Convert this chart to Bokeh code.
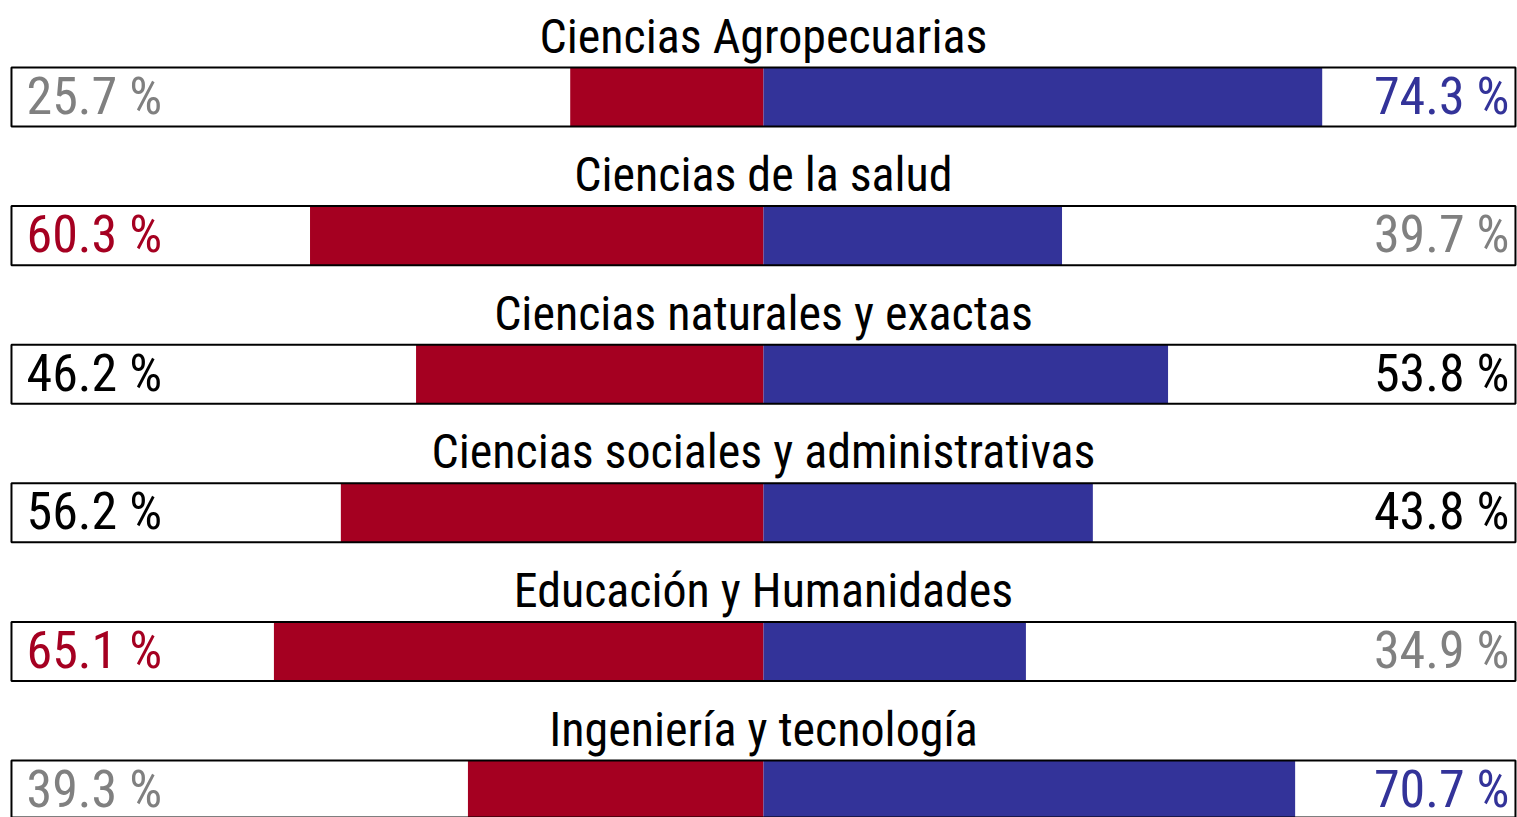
from bokeh.plotting import figure
from bokeh.models import Range1d, ColumnDataSource
from bokeh.core.properties import value
from bokeh.embed import file_html
from bokeh.resources import INLINE

# ---- data ----
areas = [
    "Ciencias Agropecuarias",
    "Ciencias de la salud",
    "Ciencias naturales y exactas",
    "Ciencias sociales y administrativas",
    "Educación y Humanidades",
    "Ingeniería y tecnología",
]
left_pct = [25.7, 60.3, 46.2, 56.2, 65.1, 39.3]    # red (left)
right_pct = [74.3, 39.7, 53.8, 43.8, 34.9, 70.7]   # blue (right)

# ---- styles ----
RED = "#A50021"
BLUE = "#333399"
GRAY = "#808080"
BLACK = "#000000"
left_label_colors = [GRAY, RED, BLACK, BLACK, RED, GRAY]
right_label_colors = [BLUE, GRAY, BLACK, BLACK, GRAY, BLUE]
FONT = value("'Roboto Condensed', 'Liberation Sans Narrow', 'DejaVu Sans Condensed', sans-serif")

n = len(areas)
rows = list(range(n))
BAR_H = 0.426

src = ColumnDataSource(dict(
    y=rows,
    neg=[-v for v in left_pct],
    pos=right_pct,
    zero=[0] * n,
    lo=[-100] * n,
    hi=[100] * n,
    title=areas,
    title_y=[r - 0.440 for r in rows],
    lab_y=[r - 0.006 for r in rows],
    left_txt=[f"{v:.1f} %" for v in left_pct],
    right_txt=[f"{v:.1f} %" for v in right_pct],
    lcol=left_label_colors,
    rcol=right_label_colors,
    lx=[-98.0] * n,
    rx=[99.2] * n,
    cx=[0] * n,
))

p = figure(width=1517, height=817, output_backend="svg", toolbar_location=None,
           x_range=Range1d(-101.46, 100.27), y_range=Range1d(5.1984, -0.6963),
           min_border=0)
p.axis.visible = False
p.grid.visible = False
p.outline_line_color = None
p.background_fill_color = "white"

p.hbar(y="y", left="neg", right="zero", height=BAR_H, source=src,
       fill_color=RED, line_color=None)
p.hbar(y="y", left="zero", right="pos", height=BAR_H, source=src,
       fill_color=BLUE, line_color=None)
p.hbar(y="y", left="lo", right="hi", height=BAR_H, source=src,
       fill_color=None, line_color=BLACK, line_width=2)

p.text(x="cx", y="title_y", text="title", source=src, text_font=FONT,
       text_font_size="48px", text_align="center", text_baseline="alphabetic",
       text_color=BLACK)
p.text(x="lx", y="lab_y", text="left_txt", source=src, text_font=FONT,
       text_font_size="52px", text_align="left", text_baseline="alphabetic",
       text_color="lcol")
p.text(x="rx", y="lab_y", text="right_txt", source=src, text_font=FONT,
       text_font_size="52px", text_align="right", text_baseline="alphabetic",
       text_color="rcol")

open("out.html", "w").write(file_html(p, INLINE))
